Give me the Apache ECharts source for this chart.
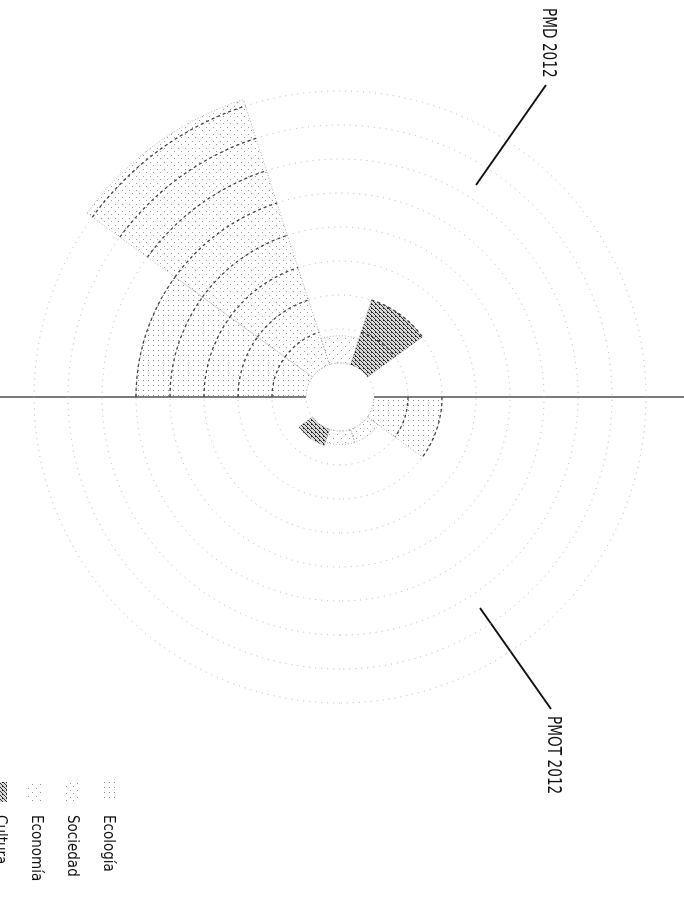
<!DOCTYPE html>
<html><head><meta charset="utf-8">
<script src="https://cdn.jsdelivr.net/npm/echarts@6/dist/echarts.min.js"></script>
<style>
html,body{margin:0;padding:0;background:#fff;width:684px;height:924px;overflow:hidden;}
#chart{position:absolute;left:0;top:0;width:924px;height:730px;transform-origin:0 0;transform:translate(684px,0) rotate(90deg);}
</style></head>
<body><div id="chart"></div>
<script>
// ---- data (radius in grid-ring units) ----
const plans = ['PMD 2012', 'PMOT 2012'];
const slotNames = ['Ecología', 'Sociedad', 'Economía', 'Cultura', '—'];
const dimensions = ['Ecología', 'Sociedad', 'Economía', 'Cultura'];
const pmd2012 = [5, 8.2, 0.8, 2];
const pmot2012 = [2, 0.4, 0.4, 0.5];
const radiusTicks = [0, 8];

const categories = [];
plans.forEach(p => slotNames.forEach(s => categories.push(p + ' · ' + s)));

const FONT = '"Liberation Sans Narrow","DejaVu Sans Condensed","Liberation Sans",sans-serif';
const CX = 397, CY = 344, R0 = 34, R = 306;

function pat(size, draw) {
  const c = document.createElement('canvas');
  c.width = c.height = size;
  const g = c.getContext('2d');
  draw(g);
  return { image: c, repeat: 'repeat' };
}
const patterns = [
  pat(5, g => { g.fillStyle = '#8a8a8a'; g.fillRect(0, 0, 1, 1); }),
  pat(7, g => { g.fillStyle = '#9a9a9a'; g.fillRect(1, 1, 1, 1); g.fillRect(4, 5, 1, 1); }),
  pat(8, g => { g.fillStyle = '#999'; g.fillRect(2, 2, 1, 1); g.fillRect(6, 6, 1, 1); }),
  pat(4, g => { g.fillStyle = '#d8d8d8'; g.fillRect(0, 0, 4, 4); g.strokeStyle = '#333'; g.lineWidth = 1;
    g.beginPath(); g.moveTo(0, 4); g.lineTo(4, 0); g.stroke(); g.fillStyle = '#222'; g.fillRect(0, 0, 1, 1); })
];

function renderSector(params, api) {
  const cs = params.coordSys;
  const cx = cs.cx, cy = cs.cy;
  const val = api.value(0), cat = api.value(1);
  const far = api.coord([radiusTicks[1], cat]);
  const mid = Math.atan2(far[1] - cy, far[0] - cx);
  const half = Math.PI / categories.length;
  const p = api.coord([val, cat]);
  const r = Math.hypot(p[0] - cx, p[1] - cy);
  const o = api.coord([radiusTicks[0], cat]);
  const r0 = Math.hypot(o[0] - cx, o[1] - cy);
  const children = [{
    type: 'sector',
    shape: { cx, cy, r0, r, startAngle: mid - half, endAngle: mid + half, clockwise: true },
    style: { fill: patterns[params.seriesIndex], stroke: '#999', lineWidth: 0.8, lineDash: [1, 2] }
  }];
  for (let k = 1; k <= Math.floor(val); k++) {
    const q = api.coord([k, cat]);
    const rk = Math.hypot(q[0] - cx, q[1] - cy);
    children.push({
      type: 'arc',
      shape: { cx, cy, r: rk, startAngle: mid - half, endAngle: mid + half, clockwise: true },
      style: { stroke: '#444', fill: null, lineWidth: 1.3, lineDash: [3, 3] }
    });
  }
  return { type: 'group', children };
}

const series = dimensions.map((d, i) => ({
  name: d,
  type: 'custom',
  coordinateSystem: 'polar',
  itemStyle: { color: patterns[i], borderColor: '#bbb', borderWidth: 0.5 },
  renderItem: renderSector,
  data: [[pmd2012[i], i], [pmot2012[i], slotNames.length + i]]
}));

const chart = echarts.init(document.getElementById('chart'));
chart.setOption({
  backgroundColor: '#fff',
  animation: false,
  polar: { center: [CX, CY], radius: [R0, R] },
  angleAxis: {
    type: 'category', data: categories, startAngle: 270, clockwise: true,
    axisLine: { show: false }, axisTick: { show: false }, axisLabel: { show: false },
    splitLine: { show: false }
  },
  radiusAxis: {
    type: 'value', min: radiusTicks[0], max: radiusTicks[1], interval: 1,
    axisLine: { show: false }, axisTick: { show: false }, axisLabel: { show: false },
    splitLine: { show: true, lineStyle: { color: '#b5b5b5', type: [1, 5], width: 1 } }
  },
  legend: {
    orient: 'vertical', left: 777, top: 564, itemWidth: 20, itemHeight: 15, itemGap: 21,
    icon: 'rect',
    data: dimensions,
    textStyle: { fontFamily: FONT, fontSize: 15, color: '#111', padding: [0, 0, 0, 8] },
    itemStyle: { borderWidth: 0 }
  },
  graphic: [
    { type: 'line', shape: { x1: CX, y1: 0, x2: CX, y2: CY - R0 }, style: { stroke: '#222', lineWidth: 1.2 } },
    { type: 'line', shape: { x1: CX, y1: CY + R0, x2: CX, y2: 730 }, style: { stroke: '#222', lineWidth: 1.2 } },
    { type: 'line', shape: { x1: 85, y1: 138, x2: 185, y2: 208 }, style: { stroke: '#111', lineWidth: 2 } },
    { type: 'line', shape: { x1: 608, y1: 204, x2: 709, y2: 133 }, style: { stroke: '#111', lineWidth: 2 } },
    { type: 'text', x: 8, y: 136, scaleX: 0.8, style: { text: plans[0], font: '19px ' + FONT, fill: '#111', verticalAlign: 'middle' } },
    { type: 'text', x: 716, y: 131, scaleX: 0.8, style: { text: plans[1], font: '19px ' + FONT, fill: '#111', verticalAlign: 'middle' } }
  ],
  series
});
</script>
</body></html>
